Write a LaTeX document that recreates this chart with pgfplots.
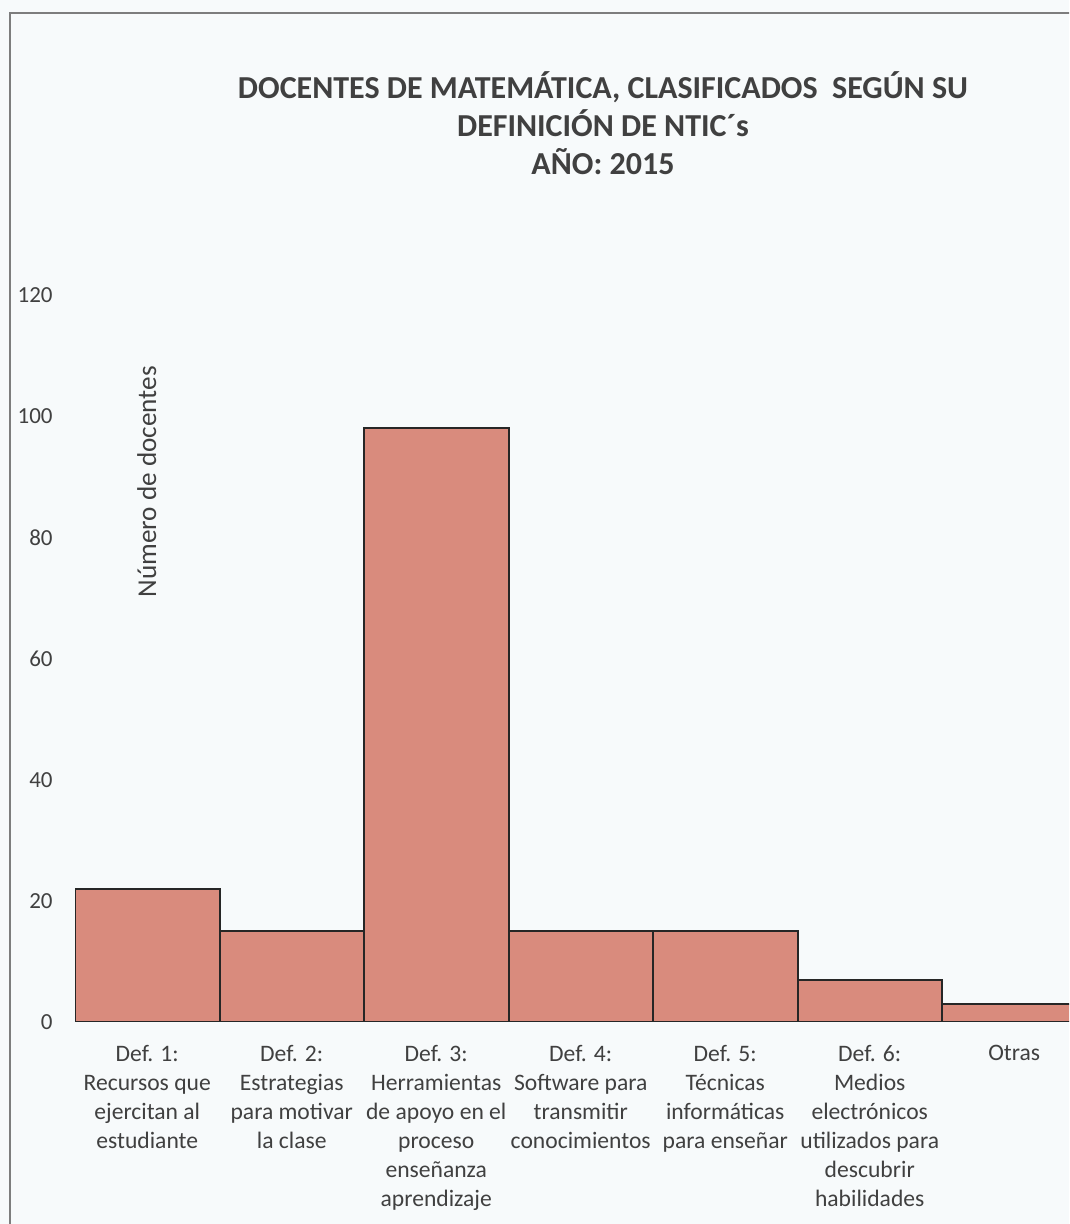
\documentclass[border=0pt]{standalone}
\usepackage{pgfplots}
\pgfplotsset{compat=1.18}
\usepackage{fontspec}
\setmainfont{Carlito}

\definecolor{barfill}{RGB}{217,139,125}
\definecolor{framegray}{RGB}{125,125,125}
\definecolor{bg}{RGB}{247,250,251}
\definecolor{txt}{RGB}{64,64,64}

\begin{document}
\begin{tikzpicture}
% page area and chart frame
\useasboundingbox (0,0) rectangle (534.5pt,612pt);
\clip (0,0) rectangle (534.5pt,612pt);
\fill[bg] (0,0) rectangle (534.5pt,612pt);
\draw[framegray, line width=1pt] (5pt,-10pt) -- (5pt,605.5pt) -- (560pt,605.5pt);

\begin{axis}[
  at={(37.5pt,101pt)}, anchor=south west,
  scale only axis, width=505.75pt, height=363.5pt,
  xmin=-0.5, xmax=6.5, ymin=0, ymax=120,
  ybar, bar width=1, bar shift=0pt,
  axis line style={draw=none},
  major tick length=0pt,
  ytick={0,20,...,120},
  xtick={0,...,6},
  xticklabels={
    {Def. 1:\\Recursos que\\ejercitan al\\estudiante},
    {Def. 2:\\Estrategias\\para motivar\\la clase},
    {Def. 3:\\Herramientas\\de apoyo en el\\proceso\\enseñanza\\aprendizaje},
    {Def. 4:\\Software para\\transmitir\\conocimientos},
    {Def. 5:\\Técnicas\\informáticas\\para enseñar},
    {Def. 6:\\Medios\\electrónicos\\utilizados para\\descubrir\\habilidades},
    {Otras}},
  /pgf/number format/assume math mode=true,
  yticklabel style={anchor=east, inner sep=0pt, xshift=-11pt,
    font=\fontsize{11.5}{13}\selectfont, text=txt},
  xticklabel style={anchor=north, align=center, inner sep=0pt, yshift=-11.5pt,
    font=\fontsize{11.8}{14.5}\selectfont, text=txt},
  ylabel={Número de docentes},
  every axis y label/.style={at={(rel axis cs:0.071,0.743)}, rotate=90,
    anchor=center, font=\fontsize{13.6}{15}\selectfont, text=txt},
]
\addplot[fill=barfill, draw=black!85, line width=1pt]
  coordinates {(0,22) (1,15) (2,98) (3,15) (4,15) (5,7) (6,3)};
\end{axis}

\node[align=center, font=\bfseries\fontsize{16}{19}\selectfont, text=txt]
  at (301.5pt,550.25pt)
  {DOCENTES DE MATEMÁTICA, CLASIFICADOS\ \ SEGÚN SU\\DEFINICIÓN DE NTIC´s\\AÑO: 2015};
\end{tikzpicture}
\end{document}
